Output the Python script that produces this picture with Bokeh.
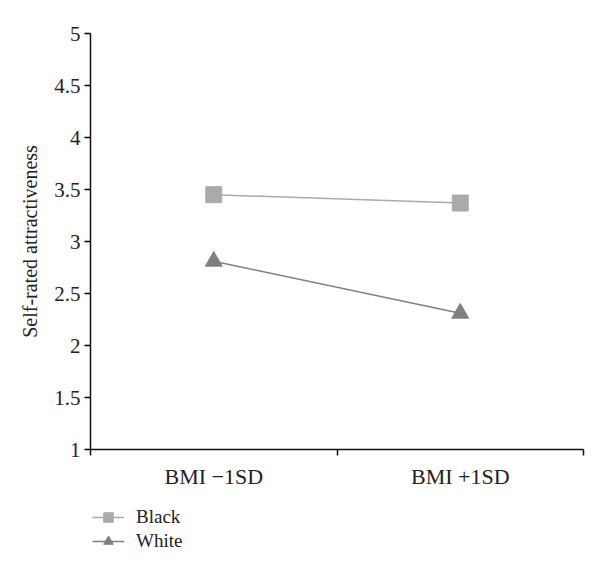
from bokeh.plotting import figure
from bokeh.layouts import column
from bokeh.models import FixedTicker, Range1d, Legend, LegendItem
from bokeh.embed import file_html
from bokeh.resources import INLINE

categories = ["BMI \u22121SD", "BMI +1SD"]
series_names = ["Black", "White"]
black = [3.45, 3.37]
white = [2.81, 2.31]
yticks = [1, 1.5, 2, 2.5, 3, 3.5, 4, 4.5, 5]
ytick_labels = ["1", "1.5", "2", "2.5", "3", "3.5", "4", "4.5", "5"]

xpos = [i + 0.5 for i in range(len(categories))]
FONT = "Liberation Serif"
BLACK_C = "#aaaaaa"
WHITE_C = "#808080"

p = figure(width=592, height=500, output_backend="svg", toolbar_location=None,
           x_range=Range1d(0, len(categories)), y_range=Range1d(1, 5),
           min_border_left=90, min_border_right=9, min_border_top=33, min_border_bottom=51)
p.outline_line_color = None
p.grid.visible = False

p.line(xpos, black, line_color=BLACK_C, line_width=1.5)
p.scatter(xpos, black, marker="square", size=16, fill_color=BLACK_C, line_color=BLACK_C)
p.line(xpos, white, line_color=WHITE_C, line_width=1.5)
p.scatter(xpos, white, marker="triangle", size=17, fill_color=WHITE_C, line_color=WHITE_C)

# y axis
p.yaxis.ticker = FixedTicker(ticks=yticks, minor_ticks=[])
p.yaxis.major_label_overrides = {t: l for t, l in zip(yticks, ytick_labels)}
p.yaxis.axis_label = "Self-rated attractiveness"
p.yaxis.axis_label_text_font = FONT
p.yaxis.axis_label_text_font_style = "normal"
p.yaxis.axis_label_text_font_size = "20px"
p.yaxis.axis_label_text_color = "#222222"
p.yaxis.axis_label_standoff = 10
p.yaxis.major_label_text_font = FONT
p.yaxis.major_label_text_font_size = "21px"
p.yaxis.major_label_text_color = "#222222"
p.yaxis.major_tick_in = 0
p.yaxis.major_tick_out = 6
p.yaxis.axis_line_color = "#111111"
p.yaxis.axis_line_width = 1.5
p.yaxis.major_tick_line_width = 1.5
p.yaxis.major_label_standoff = 4

# x axis: labels at centres, ticks at category boundaries
p.xaxis.ticker = FixedTicker(ticks=xpos, minor_ticks=list(range(len(categories) + 1)))
p.xaxis.major_label_overrides = {x: c for x, c in zip(xpos, categories)}
p.xaxis.major_tick_in = 0
p.xaxis.major_tick_out = 0
p.xaxis.minor_tick_in = 0
p.xaxis.minor_tick_out = 6
p.xaxis.minor_tick_line_color = "#111111"
p.xaxis.minor_tick_line_width = 1.5
p.xaxis.axis_line_color = "#111111"
p.xaxis.axis_line_width = 1.5
p.xaxis.major_label_text_font = FONT
p.xaxis.major_label_text_font_size = "22px"
p.xaxis.major_label_text_color = "#222222"
p.xaxis.major_label_standoff = 8

# legend in a separate strip below the chart (placeholder renderers carry no data)
nan = float("nan")
lg = figure(width=592, height=66, output_backend="svg", toolbar_location=None,
            x_range=Range1d(0, 1), y_range=Range1d(0, 1),
            x_axis_location=None, y_axis_location=None, min_border=0)
lg.grid.visible = False
lg.outline_line_color = None
l1 = lg.line([nan], [nan], line_color=BLACK_C, line_width=1.5)
s1 = lg.scatter([nan], [nan], marker="square", size=11, fill_color=BLACK_C, line_color=BLACK_C)
l2 = lg.line([nan], [nan], line_color=WHITE_C, line_width=1.5)
s2 = lg.scatter([nan], [nan], marker="triangle", size=12, fill_color=WHITE_C, line_color=WHITE_C)

legend = Legend(items=[LegendItem(label=series_names[0], renderers=[l1, s1]),
                       LegendItem(label=series_names[1], renderers=[l2, s2])],
                location=(2, 13), orientation="vertical")
legend.border_line_color = None
legend.background_fill_alpha = 0
legend.label_text_font = FONT
legend.label_text_font_size = "19px"
legend.label_text_color = "#222222"
legend.glyph_width = 32
legend.glyph_height = 24
legend.label_height = 24
legend.spacing = 0
legend.padding = 0
legend.margin = 0
legend.label_standoff = 12
lg.add_layout(legend, "center")

layout = column(p, lg, spacing=0)
open("out.html", "w").write(file_html(layout, INLINE))
